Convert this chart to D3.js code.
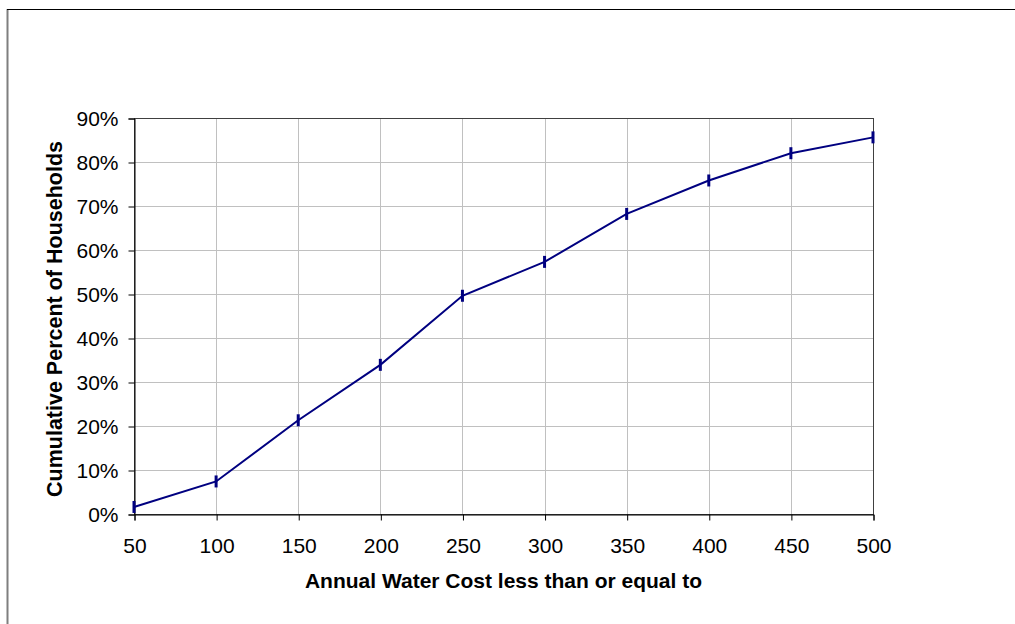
<!DOCTYPE html>
<html>
<head>
<meta charset="utf-8">
<script src="https://cdn.jsdelivr.net/npm/d3@7"></script>
<style>
  html, body { margin: 0; padding: 0; background: #fff; }
  svg { display: block; }
  text { font-family: "Liberation Sans", Arial, sans-serif; fill: #000; }
</style>
</head>
<body>
<svg id="chart" width="1015" height="624"></svg>
<script>
// Annual water cost thresholds and the cumulative share of households at or below each
const costs = [50, 100, 150, 200, 250, 300, 350, 400, 450, 500];
const cumulativePct = [1.6, 7.4, 21.3, 33.9, 49.6, 57.3, 68.2, 75.8, 82.0, 85.6];
const yTicks = [0, 10, 20, 30, 40, 50, 60, 70, 80, 90];
const xTitle = "Annual Water Cost less than or equal to";
const yTitle = "Cumulative Percent of Households";

const svg = d3.select("#chart");
const plot = { left: 134, top: 118, right: 873, bottom: 514 };

const x = d3.scaleLinear().domain([50, 500]).range([plot.left, plot.right]);
const y = d3.scaleLinear().domain([0, 90]).range([plot.bottom, plot.top]);

// outer frame (left and top edges visible)
svg.append("line").attr("x1", 7.5).attr("x2", 7.5).attr("y1", 9).attr("y2", 624)
  .attr("stroke", "#7f7f7f").attr("stroke-width", 2);
svg.append("line").attr("x1", 7).attr("x2", 1015).attr("y1", 9.5).attr("y2", 9.5)
  .attr("stroke", "#000").attr("stroke-width", 1);

// gridlines
const grid = svg.append("g");
grid.selectAll(".hg").data(yTicks.slice(1, -1)).join("line")
  .attr("x1", plot.left).attr("x2", plot.right)
  .attr("y1", d => Math.round(y(d)) + 0.5).attr("y2", d => Math.round(y(d)) + 0.5)
  .attr("stroke", "#c0c0c0").attr("stroke-width", 1);
grid.selectAll(".vg").data(costs.slice(1, -1)).join("line")
  .attr("x1", d => Math.round(x(d)) + 0.5).attr("x2", d => Math.round(x(d)) + 0.5)
  .attr("y1", plot.top).attr("y2", plot.bottom)
  .attr("stroke", "#c0c0c0").attr("stroke-width", 1);

// plot frame
svg.append("rect")
  .attr("x", plot.left + 0.5).attr("y", plot.top + 0.5)
  .attr("width", plot.right - plot.left).attr("height", plot.bottom - plot.top)
  .attr("fill", "none").attr("stroke", "#404040").attr("stroke-width", 1);

// y axis
const yAxis = d3.axisLeft(y).tickValues(yTicks).tickSize(6).tickPadding(10)
  .tickFormat(d => d + "%");
const gy = svg.append("g").attr("transform", `translate(${plot.left + 0.5},0.5)`).call(yAxis);
gy.select(".domain").attr("stroke", "#000");
gy.selectAll(".tick line").attr("stroke", "#000");
gy.selectAll(".tick text").style("font-size", "21px").attr("fill", "#000");

// x axis
const xAxis = d3.axisBottom(x).tickValues(costs).tickSize(6);
const gx = svg.append("g").attr("transform", `translate(0.5,${plot.bottom + 0.5})`).call(xAxis);
gx.select(".domain").attr("stroke", "#000");
gx.selectAll(".tick line").attr("stroke", "#000");
gx.selectAll(".tick text").style("font-size", "21px").attr("fill", "#000")
  .attr("dy", null).attr("y", 38);

// axis titles
svg.append("text")
  .attr("x", (plot.left + plot.right) / 2).attr("y", 588)
  .attr("text-anchor", "middle").style("font-weight", "bold").style("font-size", "21px")
  .text(xTitle);
svg.append("text")
  .attr("transform", `translate(62,${(plot.top + plot.bottom) / 2 + 3}) rotate(-90)`)
  .attr("text-anchor", "middle").style("font-weight", "bold").style("font-size", "21.5px")
  .text(yTitle);

// data line
const data = costs.map((c, i) => ({ c, v: cumulativePct[i] }));
svg.append("path")
  .datum(data)
  .attr("fill", "none").attr("stroke", "#000080").attr("stroke-width", 2)
  .attr("d", d3.line().x(d => x(d.c)).y(d => y(d.v)));

// dash markers
svg.selectAll(".mk").data(data).join("line")
  .attr("x1", d => x(d.c)).attr("x2", d => x(d.c))
  .attr("y1", d => y(d.v) - 6).attr("y2", d => y(d.v) + 6)
  .attr("stroke", "#000080").attr("stroke-width", 3);
</script>
</body>
</html>
